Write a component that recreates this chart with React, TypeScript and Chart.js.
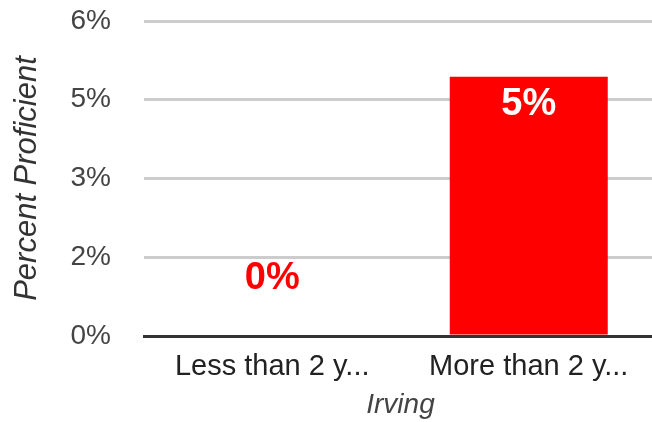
import React, { useEffect, useRef } from "react";
import { Chart, registerables } from "chart.js";

Chart.register(...registerables);

const categories = ["Less than 2 y...", "More than 2 y..."];
const values = [0, 4.94];
const valueLabels = ["0%", "5%"];
const yTickValues = [0, 1.5, 3, 4.5, 6];
const xTitle = "Irving";
const yTitle = "Percent Proficient";

const FONT = "'Liberation Sans', Arial, sans-serif";

const labelPlugin = {
  id: "valueLabels",
  afterLayout(chart: any) {
    const x = chart.scales.x;
    x.right += 5;
    x.width += 5;
    x.configure();
  },
  afterDatasetsDraw(chart: any) {
    const ctx = chart.ctx;
    const meta = chart.getDatasetMeta(0);
    ctx.save();
    ctx.font = `bold 38px ${FONT}`;
    ctx.textAlign = "center";
    ctx.textBaseline = "middle";
    meta.data.forEach((bar: any, i: number) => {
      const h = bar.base - bar.y;
      if (h > 60) {
        ctx.fillStyle = "#ffffff";
        ctx.fillText(valueLabels[i], bar.x, bar.y + 28);
      } else {
        ctx.fillStyle = "#ff0000";
        ctx.fillText(valueLabels[i], bar.x, bar.y - 57);
      }
    });
    ctx.restore();
  },
};

export default function App() {
  const ref = useRef<HTMLCanvasElement>(null);
  useEffect(() => {
    document.body.style.margin = "0";
    const chart = new Chart(ref.current!, {
      type: "bar",
      data: {
        labels: categories,
        datasets: [
          {
            data: values,
            backgroundColor: "#ff0000",
            barPercentage: 0.616,
            categoryPercentage: 1,
          },
        ],
      },
      options: {
        animation: false,
        responsive: false,
        maintainAspectRatio: false,
        layout: { padding: { top: 21, right: 0, left: 0, bottom: 0 } },
        plugins: {
          legend: { display: false },
          tooltip: { enabled: false },
        },
        scales: {
          x: {
            grid: { display: false, drawTicks: false },
            border: { display: true, color: "#333333", width: 3 },
            ticks: {
              color: "#222222",
              font: { family: FONT, size: 29 },
              padding: 14,
              maxRotation: 0,
              autoSkip: false,
            },
            title: {
              display: true,
              text: xTitle,
              color: "#444444",
              font: { family: FONT, size: 28, style: "italic" },
              padding: { top: 4, bottom: 0 },
            },
            afterFit(scale: any) {
              scale.height = 86;
              scale.paddingLeft = 0;
              scale.paddingRight = 0;
            },
          },
          y: {
            min: 0,
            max: 6,
            afterBuildTicks(scale: any) {
              scale.ticks = yTickValues.map((v) => ({ value: v }));
            },
            grid: { color: "#cccccc", lineWidth: 3, drawTicks: false },
            border: { display: false },
            ticks: {
              color: "#444444",
              font: { family: FONT, size: 28 },
              padding: 33,
              callback: (v: any) => `${Math.round(Number(v))}%`,
            },
            title: {
              display: true,
              text: yTitle,
              color: "#333333",
              font: { family: FONT, size: 31, style: "italic" },
              padding: { top: 9, bottom: 0 },
            },
            afterFit(scale: any) {
              scale.width = 144;
              scale.paddingTop = 0;
              scale.paddingBottom = 0;
            },
          },
        },
      },
      plugins: [labelPlugin],
    });
    return () => chart.destroy();
  }, []);
  return (
    <div style={{ width: 652, height: 422 }}>
      <canvas ref={ref} width={652} height={422} />
    </div>
  );
}
